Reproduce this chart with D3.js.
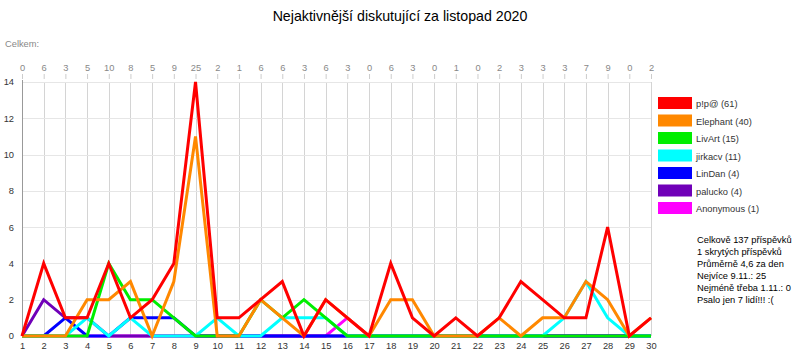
<!DOCTYPE html>
<head>
  <meta charset="utf-8">
  <title>Nejaktivnější diskutující</title>
  <script src="https://d3js.org/d3.v7.min.js"></script>
  <style>
    body { margin: 0; background: #fff; }
    text { font-family: "Liberation Sans", Arial, sans-serif; }
    .grid line { stroke: #d4d4d4; shape-rendering: crispEdges; }
    .hgrid line { stroke: #e6e6e6; shape-rendering: crispEdges; }
    .series { fill: none; stroke-width: 3; stroke-linejoin: miter; }
  </style>
</head>
<body>
  <script>
    var days = d3.range(1, 31);
    var totals = [0, 6, 3, 5, 10, 8, 5, 9, 25, 2, 1, 6, 6, 3, 6, 3, 0, 6, 3, 0, 1, 0, 2, 3, 3, 3, 7, 9, 0, 2];

    var names = ["p!p@", "Elephant", "LivArt", "jirkacv", "LinDan", "palucko", "Anonymous"];
    var counts = [61, 40, 15, 11, 4, 4, 1];
    var colors = ["#ff0000", "#ff8800", "#00ee00", "#00ffff", "#0000ff", "#7000b8", "#ff00ff"];

    var pip = [0, 4, 1, 1, 4, 1, 2, 4, 14, 1, 1, 2, 3, 0, 2, 1, 0, 4, 1, 0, 1, 0, 1, 3, 2, 1, 1, 6, 0, 1];
    var elephant = [0, 0, 0, 2, 2, 3, 0, 3, 11, 0, 0, 2, 1, 0, 2, 1, 0, 2, 2, 0, 0, 0, 1, 0, 1, 1, 3, 2, 0, 1];
    var livart = [0, 0, 0, 0, 4, 2, 2, 1, 0, 0, 0, 2, 1, 2, 1, 0, 0, 0, 0, 0, 0, 0, 0, 0, 0, 0, 0, 0, 0, 0];
    var jirkacv = [0, 0, 0, 1, 0, 1, 0, 0, 0, 1, 0, 0, 1, 1, 1, 0, 0, 0, 0, 0, 0, 0, 0, 0, 0, 1, 3, 1, 0, 0];
    var lindan = [0, 0, 1, 0, 0, 1, 1, 1, 0, 0, 0, 0, 0, 0, 0, 0, 0, 0, 0, 0, 0, 0, 0, 0, 0, 0, 0, 0, 0, 0];
    var palucko = [0, 2, 1, 1, 0, 0, 0, 0, 0, 0, 0, 0, 0, 0, 0, 0, 0, 0, 0, 0, 0, 0, 0, 0, 0, 0, 0, 0, 0, 0];
    var anonymous = [0, 0, 0, 0, 0, 0, 0, 0, 0, 0, 0, 0, 0, 0, 0, 1, 0, 0, 0, 0, 0, 0, 0, 0, 0, 0, 0, 0, 0, 0];
    var seriesValues = [pip, elephant, livart, jirkacv, lindan, palucko, anonymous];

    var yTicks = [0, 2, 4, 6, 8, 10, 12, 14];

    var summary = [
      "Celkově 137 příspěvků",
      "1 skrytých příspěvků",
      "Průměrně 4,6 za den",
      "Nejvíce 9.11.: 25",
      "Nejméně třeba 1.11.: 0",
      "Psalo jen 7 lidí!!! :("
    ];

    var width = 800,
        height = 360,
        small = 9.3,
        svg = d3.select("body").append("svg")
          .attr("width", width)
          .attr("height", height);

    var x = d3.scaleLinear().domain([1, 30]).range([22, 651]),
        y = d3.scaleLinear().domain([0, 14]).range([336, 82]);

    // title
    svg.append("text")
      .attr("x", 400).attr("y", 21)
      .attr("text-anchor", "middle")
      .attr("font-size", 14.2)
      .attr("fill", "#000")
      .text("Nejaktivnější diskutující za listopad 2020");

    svg.append("text")
      .attr("x", 5).attr("y", 47)
      .attr("font-size", small)
      .attr("fill", "#888")
      .text("Celkem:");

    // grid
    svg.append("g").attr("class", "grid")
      .selectAll("line").data(days)
      .enter().append("line")
        .attr("x1", function(d) { return Math.round(x(d)) + 0.5; })
        .attr("x2", function(d) { return Math.round(x(d)) + 0.5; })
        .attr("y1", y(14)).attr("y2", y(0));

    svg.append("g").attr("class", "hgrid")
      .selectAll("line").data(yTicks)
      .enter().append("line")
        .attr("x1", x(1)).attr("x2", x(30))
        .attr("y1", function(d) { return Math.round(y(d)) + 0.5; })
        .attr("y2", function(d) { return Math.round(y(d)) + 0.5; });

    // left axis line
    svg.append("line")
      .attr("x1", Math.round(x(1)) + 0.5).attr("x2", Math.round(x(1)) + 0.5)
      .attr("y1", y(14) - 2).attr("y2", y(0))
      .attr("stroke", "#999");

    // top axis: daily totals
    var topAxis = svg.append("g")
      .attr("transform", "translate(0,79)")
      .call(d3.axisTop(x).tickValues(days).tickSize(5).tickSizeOuter(0)
        .tickFormat(function(d) { return totals[d - 1]; }));
    topAxis.select(".domain").remove();
    topAxis.selectAll("line").attr("stroke", "#ccc");
    topAxis.selectAll("text").attr("fill", "#888").attr("font-size", small)
      .attr("font-family", "Liberation Sans, Arial, sans-serif");

    // bottom axis: days
    var bottomAxis = svg.append("g")
      .attr("transform", "translate(0," + y(0) + ")")
      .call(d3.axisBottom(x).tickValues(days).tickSize(0).tickPadding(6));
    bottomAxis.select(".domain").remove();
    bottomAxis.selectAll("text").attr("fill", "#333").attr("font-size", small)
      .attr("font-family", "Liberation Sans, Arial, sans-serif");

    // left axis labels
    var leftAxis = svg.append("g")
      .attr("transform", "translate(" + x(1) + ",0)")
      .call(d3.axisLeft(y).tickValues(yTicks).tickSize(0).tickPadding(8));
    leftAxis.select(".domain").remove();
    leftAxis.selectAll("text").attr("fill", "#333").attr("font-size", small)
      .attr("font-family", "Liberation Sans, Arial, sans-serif");

    // series, drawn last-to-first so p!p@ is on top
    var line = d3.line()
      .x(function(d, i) { return x(days[i]); })
      .y(function(d) { return y(d); });

    var order = d3.range(seriesValues.length).reverse();
    svg.append("g").selectAll("path")
      .data(order)
      .enter().append("path")
        .attr("class", "series")
        .attr("stroke", function(i) { return colors[i]; })
        .attr("d", function(i) { return line(seriesValues[i]); });

    // legend
    var legend = svg.append("g").selectAll("g")
      .data(names)
      .enter().append("g")
        .attr("transform", function(d, i) { return "translate(658," + (97 + i * 17.5) + ")"; });
    legend.append("rect")
      .attr("width", 34).attr("height", 12)
      .attr("fill", function(d, i) { return colors[i]; });
    legend.append("text")
      .attr("x", 38).attr("y", 10)
      .attr("font-size", small)
      .attr("fill", "#333")
      .text(function(d, i) { return d + " (" + counts[i] + ")"; });

    // summary
    svg.append("g").selectAll("text")
      .data(summary)
      .enter().append("text")
        .attr("x", 697)
        .attr("y", function(d, i) { return 243 + i * 12; })
        .attr("font-size", small)
        .attr("fill", "#000")
        .text(function(d) { return d; });
  </script>
</body>
